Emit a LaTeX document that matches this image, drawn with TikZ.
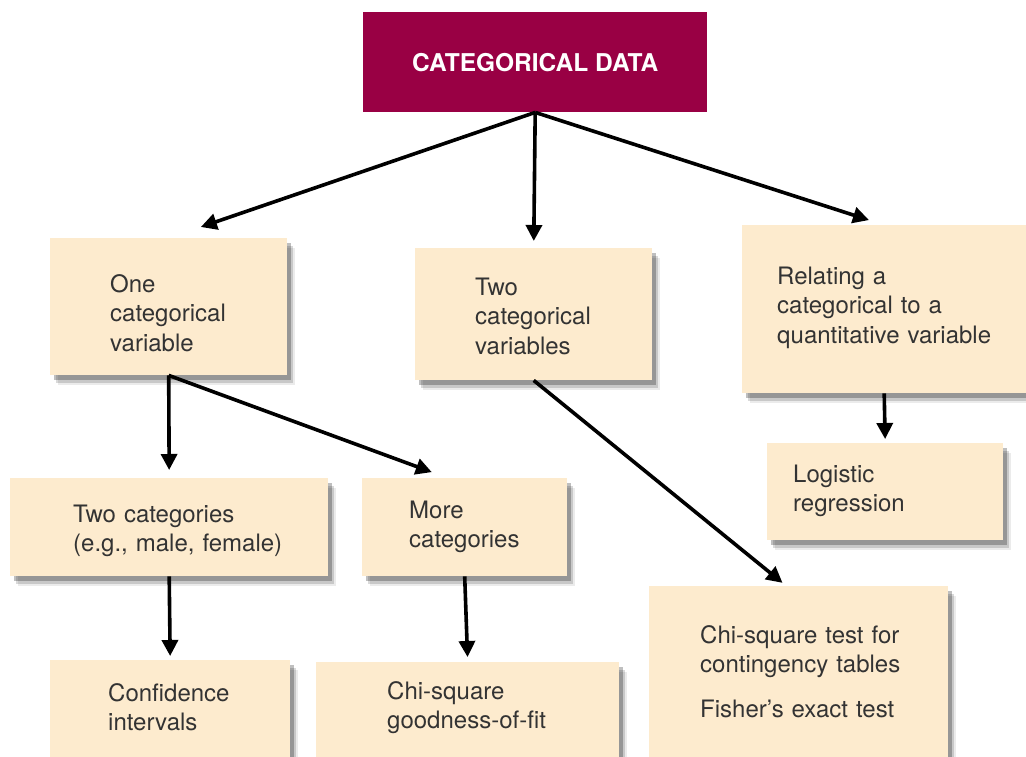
\documentclass[tikz,border=0pt]{standalone}
\usepackage{fontspec}
\setmainfont{TeX Gyre Heros}
\usetikzlibrary{arrows.meta,shadows}
\definecolor{burgundy}{RGB}{153,0,68}
\definecolor{paper}{RGB}{253,235,206}
\hyphenpenalty=10000
\exhyphenpenalty=10000
\tikzstyle{every node}=[anchor=north west,inner ysep=0pt,align=left,text=black!80,font=\fontsize{24}{29.5}\selectfont]
\tikzstyle{topic}=[fill=burgundy,text=white,align=center,inner sep=0pt,font=\fontsize{24.5}{28}\selectfont\bfseries]
\tikzstyle{method}=[fill=paper,
    drop shadow={shadow xshift=8pt,shadow yshift=-10pt,opacity=0.08,fill=black},
    drop shadow={shadow xshift=6pt,shadow yshift=-8pt,opacity=0.15,fill=black},
    drop shadow={shadow xshift=4pt,shadow yshift=-5pt,opacity=0.25,fill=black}]
\tikzstyle{arrow}=[-{Triangle[length=16pt,width=16pt]},line width=3.6pt]

\begin{document}
\begin{tikzpicture}[x=1pt,y=-1pt]
    \clip (0,0) rectangle (1026,757);
    \node[topic,minimum width=344pt,minimum height=100pt] (data) at (363,12) {CATEGORICAL DATA};
    \node[method,inner xsep=60pt,text width=117pt,text height=54pt,text depth=83pt] (one) at (50,238)
        {One\\categorical\\variable};
    \node[method,inner xsep=60pt,text width=117pt,text height=47pt,text depth=85pt] (two) at (415,248)
        {Two\\categorical\\variables};
    \node[method,inner xsep=35pt,text width=214pt,text height=59pt,text depth=109pt] (relating) at (742,225)
        {Relating a\\categorical to a\\quantitative~variable};
    \node[method,inner xsep=26pt,text width=184pt,text height=39pt,text depth=58pt] (logistic) at (767,443)
        {Logistic\\regression};
    \node[method,inner xsep=63pt,text width=192pt,text height=44pt,text depth=54pt] (twocats) at (10,478)
        {Two categories\\(e.g.,~male,~female)};
    \node[method,inner xsep=47pt,text width=111pt,text height=40pt,text depth=58pt] (more) at (362,478)
        {More\\categories};
    \node[method,inner xsep=58pt,text width=124pt,text height=41pt,text depth=120pt] (conf) at (50,660)
        {Confidence\\intervals};
    \node[method,inner xsep=71pt,text width=161pt,text height=37pt,text depth=120pt] (gof) at (316,662)
        {Chi-square\\goodness-of-fit};
    \node[method,inner xsep=51pt,text width=197pt,text height=57pt,text depth=143pt] (chi) at (649,586)
        {Chi-square~test~for\\contingency~tables\\[15pt]Fisher’s~exact~test};

    \draw[arrow,shorten >=34pt] (data.south) -- (one.north);
    \draw[arrow,shorten >=7pt] (data.south) -- (two.north);
    \draw[arrow,shorten >=16pt] (data.south) -- (relating.north);
    \draw[arrow,shorten >=8pt] (one.south) -- (twocats.north);
    \draw[arrow,shorten >=17pt] (one.south) -- (more.109);
    \draw[arrow,shorten >=5pt] (two.south) -- (chi.97);
    \draw[arrow,shorten >=4pt] (relating.south) -- (logistic.north);
    \draw[arrow,shorten >=4pt] (twocats.south) -- (conf.north);
    \draw[arrow,shorten >=5pt] (more.south) -- (gof.north);
\end{tikzpicture}
\end{document}
